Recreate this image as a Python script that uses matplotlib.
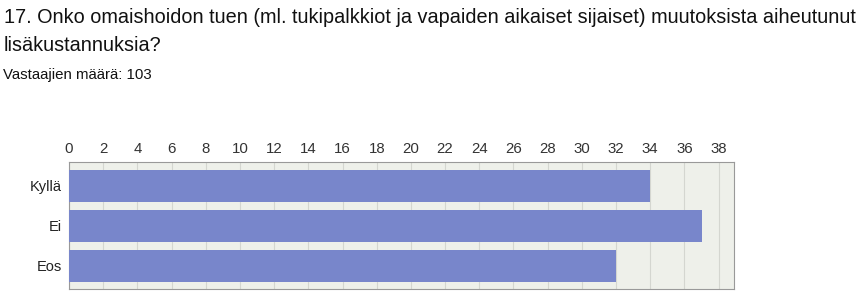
import matplotlib
matplotlib.use("Agg")
import matplotlib.pyplot as plt
import numpy as np

categories = ["Kyllä", "Ei", "Eos"]
values = [34, 37, 32]
xticks = list(range(0, 39, 2))
title_line1 = "17. Onko omaishoidon tuen (ml. tukipalkkiot ja vapaiden aikaiset sijaiset) muutoksista aiheutunut"
title_line2 = "lisäkustannuksia?"
respondents = "Vastaajien määrä: 103"

plt.rcParams['font.family'] = ['Liberation Sans', 'DejaVu Sans']

W, H = 868, 304
fig = plt.figure(figsize=(W/100, H/100), dpi=100)
fig.patch.set_facecolor("white")

fig.text(4/W, 1 - 23/H, title_line1, fontsize=14.3, color="#111111", va="baseline", ha="left")
fig.text(4/W, 1 - 51/H, title_line2, fontsize=14.3, color="#111111", va="baseline", ha="left")
fig.text(3/W, 1 - 79/H, respondents, fontsize=10.8, color="#111111", va="baseline", ha="left")

left, right, top, bottom = 69, 734, 162, 289
ax = fig.add_axes([left/W, 1 - bottom/H, (right-left)/W, (bottom-top)/H])
ax.set_facecolor("#eef0ea")
y = np.arange(len(categories))
ax.barh(y, values, height=0.8, color="#7886cb", zorder=3)
ax.set_xlim(0, 38.9)
ax.set_ylim(2.58, -0.6)
ax.set_xticks(xticks)
ax.set_yticks(y)
ax.set_yticklabels(categories)
ax.xaxis.tick_top()
ax.tick_params(axis="x", length=0, pad=4, labelsize=10.8, labelcolor="#333333")
ax.tick_params(axis="y", length=0, pad=5, labelsize=10.5, labelcolor="#222222")
ax.grid(axis="x", color="#d4d6d0", linewidth=0.8, zorder=1)
for s in ax.spines.values():
    s.set_color("#999999")
    s.set_linewidth(0.8)

fig.savefig("out.png", dpi=100)
